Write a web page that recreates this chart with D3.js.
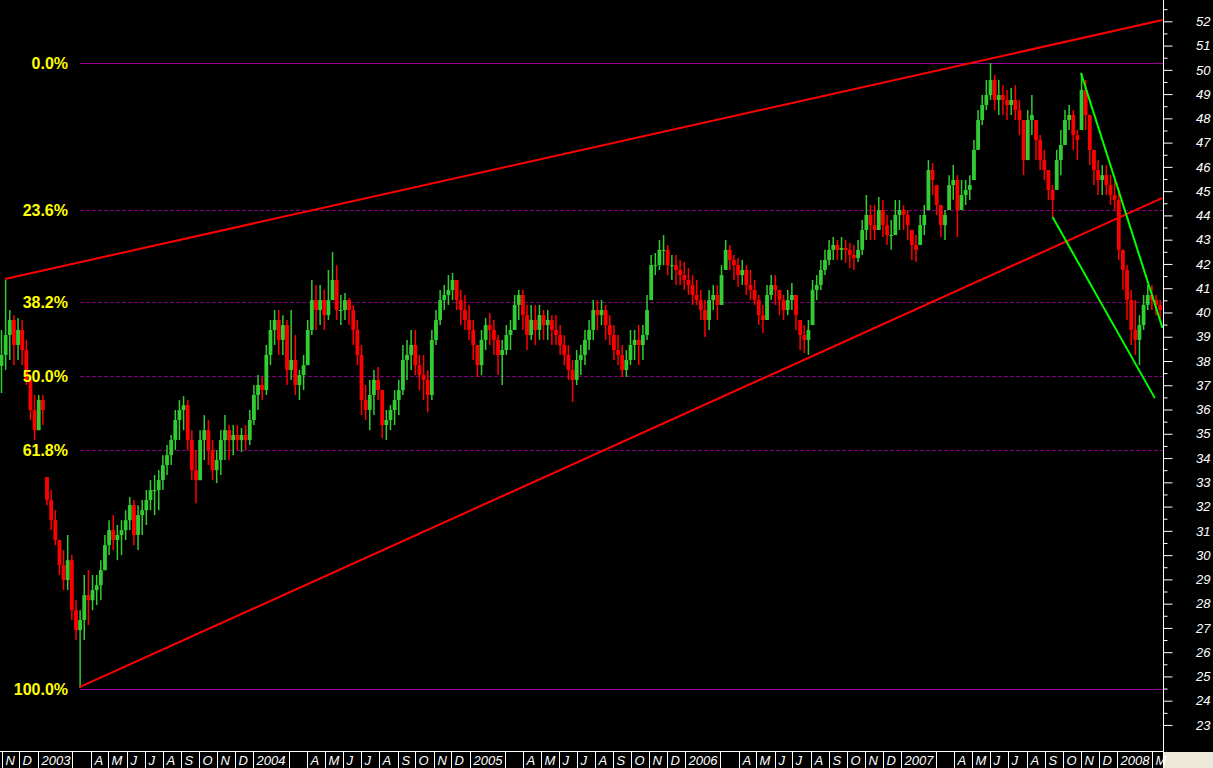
<!DOCTYPE html>
<html><head><meta charset="utf-8">
<script src="https://cdn.jsdelivr.net/npm/d3@7"></script>
<style>html,body{margin:0;padding:0;background:#000;overflow:hidden}</style>
</head><body>
<svg id="chart" width="1213" height="768"></svg>
<script>
// ---------- DATA ----------
const firstBarDate = "2002-11-01";      // weekly bars, one every 7 days
const firstOpen = 37.8;
const highs = [
39.28,41.34,40.10,39.89,39.77,39.69,38.87,37.42,36.60,36.60,
36.60,33.22,32.68,31.85,30.62,30.21,30.83,30.00,28.14,27.73,
29.18,29.38,29.18,29.18,29.79,30.83,31.44,31.65,31.24,31.44,
31.85,32.39,32.27,32.06,32.27,32.68,33.09,33.30,33.50,34.12,
34.54,34.95,35.98,36.39,36.55,36.39,35.15,34.33,35.15,35.77,
35.57,34.74,34.33,35.15,35.77,35.36,35.36,35.36,35.24,35.36,
35.98,37.01,37.42,37.34,38.66,39.69,40.10,40.10,39.89,39.69,
40.10,39.07,37.63,38.25,39.69,41.34,41.13,41.13,40.93,41.75,
42.49,41.95,40.72,40.80,40.60,40.31,39.69,38.66,37.01,37.22,
37.63,37.75,36.80,35.98,36.18,36.80,37.22,38.66,38.87,39.28,
39.28,38.25,38.25,37.63,39.28,40.10,40.93,41.13,41.54,41.63,
41.34,40.93,40.72,40.31,39.69,38.66,39.28,39.77,39.98,39.69,
39.07,38.87,39.48,39.69,40.72,40.93,40.93,40.31,40.31,40.31,
40.31,40.10,40.10,39.89,39.89,39.48,39.07,38.66,38.04,38.45,
38.66,39.28,39.69,40.51,40.51,40.51,40.31,39.89,39.48,39.07,
38.66,38.45,39.28,39.28,39.48,39.48,40.72,42.37,42.45,42.99,
43.19,42.78,42.37,42.37,42.16,42.08,41.83,41.54,41.34,40.93,
40.51,40.93,41.13,41.13,41.95,42.99,42.78,42.37,42.24,42.16,
41.95,41.75,41.34,40.72,40.31,41.13,41.54,41.54,40.93,40.72,
40.93,41.21,40.72,39.69,39.48,39.69,41.34,41.54,42.16,42.58,
42.99,43.11,42.99,43.11,42.99,42.86,42.78,42.99,43.81,44.84,
44.43,44.43,44.76,44.64,44.02,43.81,44.64,44.64,44.43,44.22,
43.40,43.19,44.02,44.43,46.28,46.16,45.25,44.43,44.22,45.66,
46.08,45.66,45.46,45.46,45.66,47.11,48.34,48.96,49.58,50.28,
49.79,49.58,49.37,49.17,49.25,49.37,48.76,47.93,48.34,48.96,
47.93,47.31,46.70,45.87,45.25,46.70,47.52,48.34,48.55,48.34,
47.52,49.87,49.58,48.14,46.70,46.28,46.08,46.08,45.66,45.46,
45.05,42.58,41.95,40.93,40.51,39.89,40.72,41.13,41.13,40.72,40.51];
const lows = [
36.68,37.63,38.04,37.83,38.04,37.83,37.01,35.57,34.74,35.15,
35.36,32.06,31.03,30.41,29.18,28.56,28.56,27.32,26.50,24.52,
26.50,27.12,27.73,27.94,28.14,29.38,30.00,30.21,29.79,30.00,
30.62,31.03,30.41,30.21,30.83,31.24,31.85,31.65,31.85,32.68,
33.30,33.71,34.33,34.74,35.15,34.33,33.09,32.14,33.09,33.92,
33.71,33.09,32.97,33.30,33.92,33.92,34.12,34.33,34.25,34.33,
34.54,35.36,35.98,36.39,36.60,37.83,38.66,38.25,38.25,37.01,
37.22,36.60,36.39,36.80,37.83,39.07,39.28,39.48,39.28,39.69,
40.51,39.69,39.48,39.69,39.48,38.66,37.83,35.77,35.57,35.15,
35.77,36.39,34.82,34.74,35.15,35.36,35.77,36.60,37.22,37.63,
37.42,36.80,36.39,35.89,36.39,38.66,39.48,40.10,40.31,40.51,
40.10,39.48,39.28,38.87,38.04,37.34,37.42,38.45,38.66,38.25,
37.42,37.01,38.25,38.45,39.28,39.69,39.28,38.45,38.87,38.66,
38.87,38.87,38.87,38.66,38.66,38.25,37.83,37.22,36.31,37.01,
37.42,37.83,38.45,38.87,39.28,39.48,38.87,38.66,38.04,37.83,
37.34,37.34,37.83,38.04,37.83,38.04,38.87,40.51,41.54,41.75,
41.95,41.54,41.34,41.13,41.13,40.93,40.72,40.31,40.31,39.69,
38.99,39.28,40.10,39.69,40.31,41.75,41.75,41.34,41.05,41.13,
40.72,40.51,40.31,39.48,39.15,39.69,40.51,40.31,39.89,39.69,
39.89,40.10,39.28,38.45,38.33,38.25,39.48,40.51,40.93,41.54,
41.95,42.16,42.16,42.16,42.04,41.83,41.75,42.08,42.37,42.99,
42.99,42.99,43.40,43.11,42.78,42.58,43.19,43.40,43.40,42.99,
42.16,42.08,42.78,43.19,44.22,44.84,44.02,43.11,42.99,44.22,
44.64,43.11,44.22,44.43,44.64,45.46,46.70,47.73,48.34,48.76,
48.34,48.14,48.14,47.93,48.14,47.93,47.31,45.66,46.28,47.31,
46.28,45.87,45.46,44.64,43.93,45.05,45.66,46.90,47.52,46.70,
46.28,47.52,47.52,46.08,45.25,44.84,44.84,44.84,44.43,44.22,
42.16,40.93,39.69,38.66,38.25,37.83,39.28,40.10,40.10,39.89,39.69];
const closes = [
38.25,39.07,39.69,38.66,39.28,38.45,37.22,35.98,35.15,36.39,
35.98,32.27,31.44,30.62,29.59,28.97,29.79,27.73,26.91,27.32,
28.35,28.14,28.56,28.76,29.38,30.41,31.03,30.62,30.83,31.03,
31.44,32.06,30.83,31.65,31.85,32.27,32.68,32.68,33.09,33.71,
34.12,34.74,35.57,35.98,36.18,34.74,33.50,33.09,34.74,35.15,
34.33,33.50,33.92,34.74,35.15,34.74,34.95,34.74,34.95,34.74,
35.57,36.60,37.01,36.80,38.25,39.28,39.69,38.87,39.48,37.63,
38.04,37.01,37.42,37.83,39.28,40.51,40.10,40.51,39.89,40.51,
41.34,40.10,40.10,40.51,40.10,39.28,38.25,36.39,35.98,36.60,
37.22,36.80,35.36,35.57,35.98,36.39,36.80,38.04,38.25,38.66,
37.83,37.42,37.22,36.60,38.87,39.69,40.51,40.72,40.93,41.34,
40.51,40.10,39.69,39.28,38.66,37.83,38.87,39.48,39.28,38.87,
38.25,38.45,39.07,39.28,40.31,40.72,39.89,39.07,39.69,39.28,
39.89,39.48,39.69,39.28,39.07,38.66,38.25,37.63,37.22,38.04,
38.25,38.87,39.28,40.10,39.89,40.10,39.48,39.07,38.45,38.25,
37.63,38.04,38.66,38.87,38.66,39.07,40.10,41.95,41.95,42.58,
42.58,41.95,41.95,41.75,41.54,41.34,41.13,40.72,40.51,40.10,
39.69,40.51,40.72,40.31,41.54,42.58,42.16,41.95,41.54,41.75,
41.13,40.93,40.51,39.89,39.69,40.72,41.13,40.93,40.51,40.10,
40.51,40.72,39.89,39.07,38.87,39.28,40.93,41.13,41.75,42.16,
42.58,42.78,42.58,42.66,42.58,42.37,42.24,42.58,43.40,44.02,
43.60,43.40,44.22,43.60,43.19,43.19,44.02,44.22,44.02,43.60,
42.78,42.58,43.60,44.02,45.87,45.46,44.43,43.60,44.02,45.25,
45.46,44.22,44.84,45.05,45.25,46.70,47.93,48.55,48.96,49.58,
48.76,48.96,48.76,48.55,48.76,48.34,47.93,46.28,47.93,48.14,
47.11,46.28,45.87,45.05,44.64,46.28,46.90,47.93,48.14,47.31,
47.11,49.17,48.14,46.70,45.87,45.46,45.66,45.25,44.84,44.64,
42.58,41.75,40.51,39.28,38.87,39.48,40.31,40.72,40.51,40.31,40.10];

const priceTicks = [23,24,25,26,27,28,29,30,31,32,33,34,35,36,37,38,39,40,41,42,43,44,45,46,47,48,49,50,51,52];
const fibLevels = [0, 23.6, 38.2, 50, 61.8, 100];
const fibHigh = 50.30, fibLow = 24.48, fibStart = "2003-03-13";

const monthTicks = [
 ["2002-11","N"],["2002-12","D"],
 ["2003-01","2003"],["2003-03",""],["2003-04","A"],["2003-05","M"],["2003-06","J"],["2003-07","J"],["2003-08","A"],["2003-09","S"],["2003-10","O"],["2003-11","N"],["2003-12","D"],
 ["2004-01","2004"],["2004-03",""],["2004-04","A"],["2004-05","M"],["2004-06","J"],["2004-07","J"],["2004-08","A"],["2004-09","S"],["2004-10","O"],["2004-11","N"],["2004-12","D"],
 ["2005-01","2005"],["2005-03",""],["2005-04","A"],["2005-05","M"],["2005-06","J"],["2005-07","J"],["2005-08","A"],["2005-09","S"],["2005-10","O"],["2005-11","N"],["2005-12","D"],
 ["2006-01","2006"],["2006-03",""],["2006-04","A"],["2006-05","M"],["2006-06","J"],["2006-07","J"],["2006-08","A"],["2006-09","S"],["2006-10","O"],["2006-11","N"],["2006-12","D"],
 ["2007-01","2007"],["2007-03",""],["2007-04","A"],["2007-05","M"],["2007-06","J"],["2007-07","J"],["2007-08","A"],["2007-09","S"],["2007-10","O"],["2007-11","N"],["2007-12","D"],
 ["2008-01","2008"],["2008-03","M"]
];

const redLines = [
 [["2002-11-07",41.38],["2008-03-18",52.05]],
 [["2003-03-13",24.56],["2008-03-18",44.72]]
];
const greenLines = [
 [["2007-11-01",49.87],["2008-03-18",39.36]],
 [["2007-09-14",43.93],["2008-03-05",36.47]]
];

// ---------- LAYOUT ----------
const W = 1213, H = 768, axisX = 1163, stripY = 751;
const parseDay = d3.utcParse("%Y-%m-%d");
const parseMonth = d3.utcParse("%Y-%m");

const x = d3.scaleUtc()
  .domain([parseDay("2002-11-01"), parseDay("2008-01-01")])
  .range([1.5, 1117]);
const y = d3.scaleLinear().domain([24, 52]).range([700.7, 21.3]);

const svg = d3.select("#chart");
svg.append("rect").attr("width", W).attr("height", H).attr("fill", "#000");

svg.append("defs").append("clipPath").attr("id", "plot")
  .append("rect").attr("x", 0).attr("y", 0).attr("width", axisX).attr("height", stripY);

const plot = svg.append("g").attr("clip-path", "url(#plot)");

// Fibonacci levels
const fibG = plot.append("g");
const fx0 = x(parseDay(fibStart));
fibLevels.forEach(lv => {
  const v = fibHigh - (fibHigh - fibLow) * lv / 100;
  const yy = Math.round(y(v)) + 0.5;
  const solid = (lv === 0 || lv === 100);
  fibG.append("line")
    .attr("x1", fx0).attr("x2", axisX).attr("y1", yy).attr("y2", yy)
    .attr("stroke", solid ? "#990099" : "#800080").attr("stroke-width", 1)
    .attr("shape-rendering", "crispEdges")
    .attr("stroke-dasharray", solid ? null : "4,2");
  svg.append("text")
    .attr("x", 68).attr("y", yy + 1)
    .attr("text-anchor", "end").attr("dominant-baseline", "middle")
    .attr("fill", "#FFFF00")
    .attr("font-family", "'Liberation Sans', Arial, sans-serif")
    .attr("font-weight", "bold").attr("font-size", 16)
    .text(d3.format(".1f")(lv) + "%");
});

// Candles
const bars = closes.map((c, i) => {
  const o = i === 0 ? firstOpen : closes[i - 1];
  const h = highs[i], l = lows[i];
  return {
    date: d3.utcDay.offset(parseDay(firstBarDate), 7 * i),
    o: Math.max(l, Math.min(h, o)), h, l, c
  };
});
const green = "#32CD32", red = "#FF0000";
const candleG = plot.append("g");
candleG.selectAll("line.wick").data(bars).join("line")
  .attr("class", "wick")
  .attr("x1", d => x(d.date)).attr("x2", d => x(d.date))
  .attr("y1", d => y(d.h)).attr("y2", d => y(d.l))
  .attr("stroke", d => d.c >= d.o ? green : red).attr("stroke-width", 1.5);
candleG.selectAll("rect.body").data(bars).join("rect")
  .attr("class", "body")
  .attr("x", d => x(d.date) - 1.9).attr("width", 3.8)
  .attr("y", d => y(Math.max(d.o, d.c)))
  .attr("height", d => Math.max(1, Math.abs(y(d.o) - y(d.c))))
  .attr("fill", d => d.c >= d.o ? green : red);

// Trend lines
const lineGen = d3.line().x(p => x(parseDay(p[0]))).y(p => y(p[1]));
plot.append("g").selectAll("path").data(redLines).join("path")
  .attr("d", lineGen).attr("fill", "none").attr("stroke", "#FF0000").attr("stroke-width", 2);
plot.append("g").selectAll("path").data(greenLines).join("path")
  .attr("d", lineGen).attr("fill", "none").attr("stroke", "#00FF00").attr("stroke-width", 2);

// Right price axis
const fontAxis = "'Liberation Sans', Arial, sans-serif";
const axG = svg.append("g").attr("transform", `translate(${axisX + 0.5},0)`);
axG.call(d3.axisRight(y).tickValues(priceTicks).tickSize(9).tickFormat(d3.format("d")));
axG.select(".domain").remove();
axG.selectAll(".tick line").attr("stroke", "#fff");
axG.selectAll(".tick text")
  .attr("x", 47).attr("text-anchor", "end").attr("fill", "#fff")
  .attr("font-family", fontAxis).attr("font-style", "italic").attr("font-size", 13);
const minorG = svg.append("g").attr("transform", `translate(${axisX + 0.5},0)`);
minorG.call(d3.axisRight(y).tickValues(priceTicks.map(t => t + 0.5)).tickSize(4).tickFormat(""));
minorG.select(".domain").remove();
minorG.selectAll(".tick line").attr("stroke", "#fff");
svg.append("line").attr("x1", axisX + 0.5).attr("x2", axisX + 0.5).attr("y1", 0).attr("y2", H)
  .attr("stroke", "#fff").attr("stroke-width", 1);

// Bottom date strip
svg.append("rect").attr("x", axisX + 1).attr("y", stripY + 1).attr("width", W - axisX - 1).attr("height", H - stripY - 1)
  .attr("fill", "#ECE9D8");
svg.append("line").attr("x1", 0).attr("x2", axisX).attr("y1", stripY + 0.5).attr("y2", stripY + 0.5)
  .attr("stroke", "#fff");
const mt = svg.append("g").selectAll("g").data(monthTicks).join("g")
  .attr("transform", d => `translate(${Math.round(x(parseMonth(d[0]))) + 0.5},0)`);
mt.append("line").attr("y1", stripY).attr("y2", H).attr("stroke", "#fff");
mt.append("text").attr("x", 3).attr("y", 765)
  .attr("fill", "#fff").attr("font-family", fontAxis).attr("font-style", "italic").attr("font-size", 13)
  .text(d => d[1]);
</script>
</body></html>
